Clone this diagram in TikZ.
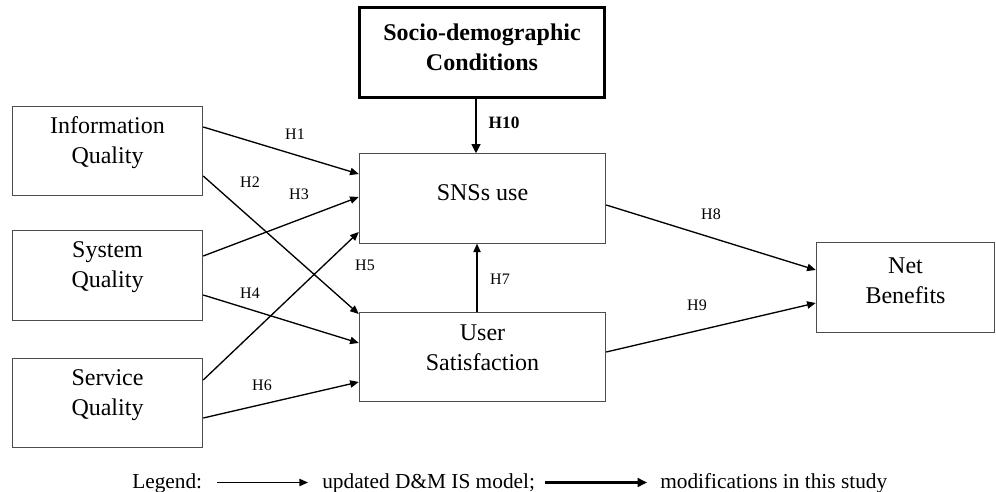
\documentclass[tikz,border=0pt]{standalone}
\usepackage{fontspec}
\setmainfont{Liberation Serif}
\usetikzlibrary{arrows.meta}

\begin{document}
\begin{tikzpicture}[x=0.75pt, y=-0.75pt,
    box/.style={draw=black!70, line width=0.6pt, inner sep=0pt, align=center,
        font=\fontsize{18}{22.5}\selectfont, minimum height=67pt},
    arr/.style={-{Triangle[length=6.5pt,width=5.5pt]}, line width=1pt},
    arrthick/.style={-{Triangle[length=7pt,width=6.5pt]}, line width=2pt},
    hlab/.style={font=\fontsize{12}{14}\selectfont},
    legtext/.style={anchor=base west, inner sep=0pt, font=\fontsize{16}{19}\selectfont}]
            \useasboundingbox (0,0) rectangle (996,492);

            % constructs
            \node[box, minimum width=143pt, text depth=16pt] (info) at (107.5,151) {Information\\Quality};
            \node[box, minimum width=143pt, text depth=16.5pt] (sys) at (107.5,275.5) {System\\Quality};
            \node[box, minimum width=143pt, text depth=16pt] (serv) at (107.5,403) {Service\\Quality};
            \node[box, minimum width=185pt, text depth=9pt] (sns) at (482.5,198.5) {SNSs use};
            \node[box, minimum width=185pt, text depth=14pt] (usat) at (482.5,357) {User\\Satisfaction};
            \node[box, minimum width=134pt, text depth=11pt] (net) at (905.5,287.5) {Net\\Benefits};
            \node[box, draw=black, line width=2.2pt, minimum width=184pt, text depth=8pt,
                font=\fontsize{18}{22.5}\selectfont\bfseries] (socio) at (482,52.5) {Socio-demographic\\Conditions};

            % hypotheses
            \draw[arr] (info.east |- 0,127) -- (sns.west |- 0,174); % H1
            \draw[arr] (info.east |- 0,176) -- (usat.west |- 0,314); % H2
            \draw[arr] (sys.east |- 0,256) -- (sns.west |- 0,197); % H3
            \draw[arr] (sys.east |- 0,295) -- (usat.west |- 0,343); % H4
            \draw[arr] (serv.east |- 0,380) -- (sns.west |- 0,232); % H5
            \draw[arr] (serv.east |- 0,418) -- (usat.west |- 0,382); % H6
            \draw[arr] (usat.north -| 477,0) -- (sns.south -| 477,0); % H7
            \draw[arr] (sns.east |- 0,205) -- (net.west |- 0,270); % H8
            \draw[arr] (usat.east |- 0,352) -- (net.west |- 0,303); % H9
            \draw[arrthick] (socio.south -| 476,0) -- (sns.north -| 476,0); % H10

            \node[hlab] (h1) at (295,134) {H1};
            \node[hlab] (h2) at (250,182) {H2};
            \node[hlab] (h3) at (299,194) {H3};
            \node[hlab] (h4) at (250,293) {H4};
            \node[hlab] (h5) at (365,265) {H5};
            \node[hlab] (h6) at (262,385) {H6};
            \node[hlab] (h7) at (500,279) {H7};
            \node[hlab] (h8) at (711,214) {H8};
            \node[hlab] (h9) at (697,305) {H9};
            \node[hlab, font=\fontsize{13}{15}\selectfont\bfseries] (h10) at (504,123) {H10};

            % legend
            \node[legtext] (leg) at (132,488) {Legend:};
            \node[legtext] (upd) at (322,488) {updated D\&M IS model;};
            \node[legtext] (mod) at (660,488) {modifications in this study};
            \coordinate (la) at (217,482.5);
            \coordinate (lb) at (308,482.5);
            \coordinate (lc) at (545,482.5);
            \coordinate (ld) at (647,482.5);
            \draw[arr] (la) -- (lb);
            \draw[arrthick] (lc) -- (ld);
        \end{tikzpicture}
\end{document}
